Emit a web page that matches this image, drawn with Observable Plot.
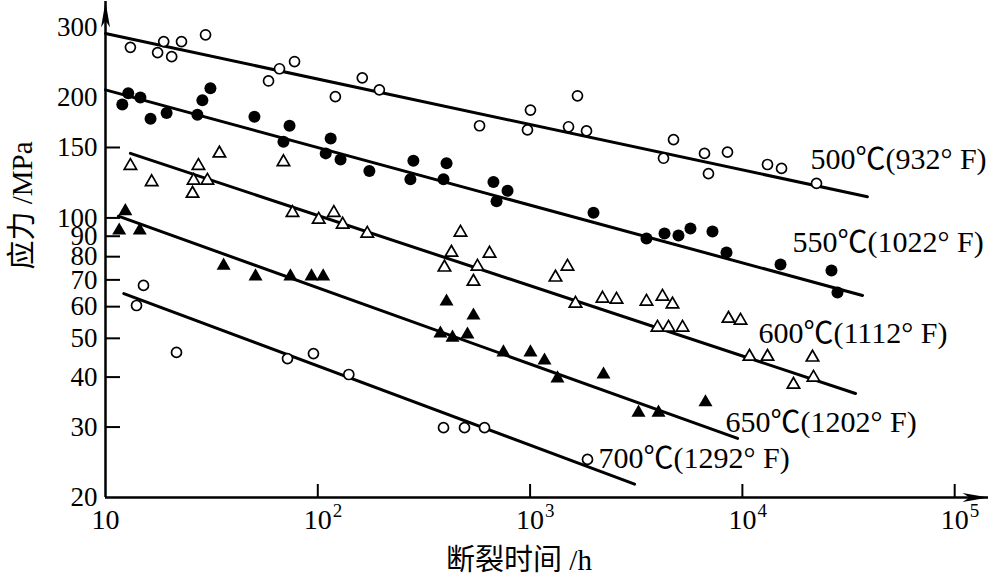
<!DOCTYPE html>
<html>
<head>
<meta charset="utf-8">
<script src="https://cdn.jsdelivr.net/npm/d3@7"></script>
<script src="https://cdn.jsdelivr.net/npm/@observablehq/plot@0.6"></script>
<style>
html,body{margin:0;padding:0;background:#fff;overflow:hidden}
</style>
</head>
<body>
<div id="chart"></div>
<script>
// ---------- data ----------
const xTicks = [10, 100, 1000, 10000, 100000];
const yTickLabels = [20, 30, 40, 50, 60, 70, 80, 90, 100, 150, 200, 300];
const yTickMarks = [30, 40, 50, 60, 70, 80, 90, 100, 150];
const xTitle = "断裂时间 /h";
const yTitle = "应力 /MPa";
const seriesLabels = ["500℃(932° F)", "550℃(1022° F)", "600℃(1112° F)", "650℃(1202° F)", "700℃(1292° F)"];

// rupture time (h), stress (MPa)
const t500 = [[13.1,267],[18.8,276],[17.6,259],[20.5,253],[22.8,276],[29.6,287],[58.6,220],[66.0,236],[77.7,246],
  [121,201],[162,224],[195,209],[578,170],[972,166],[1004,186],[1517,169],[1672,202],[1844,165],
  [4250,141],[4738,157],[6630,145],[6922,129],[8508,146],[13130,136],[15290,133],[22340,122]];
const t550 = [[12.0,192],[12.8,205],[14.6,200],[16.3,177],[19.4,183],[27.1,181],[28.6,197],[31.2,211],[50.3,179],
  [68.9,155],[73.6,170],[115,158],[109,145],[128,140],[175,131],[273,125],[282,139],[391,125],[404,137],
  [672,123],[695,110],[783,117],[1989,103],[3534,88.8],[4297,91.4],[5000,90.4],[5694,94.1],[7230,92.5],
  [8417,81.9],[15120,76.5],[26280,73.9],[28050,65.1]];
const t600 = [[13.1,135],[16.5,123],[25.7,115],[26.0,124],[27.4,135],[30.2,124],[34.4,145],[68.9,138],[76.0,103],
  [101,99.1],[119,103],[131,96.3],[171,91.4],[395,75.2],[426,81.9],[470,91.9],[541,69.3],[565,75.6],[644,81.5],
  [1317,71.0],[1500,75.6],[1636,61.1],[2193,62.9],[2553,62.5],[3534,61.8],[4203,63.6],[4686,60.8],
  [3982,53.2],[4487,53.2],[5224,53.2],[8601,56.0],[9797,55.4],[10800,45.0],[13130,45.0],[17400,38.3],
  [21390,44.8],[21620,39.9]];
const t650 = [[12.4,104],[11.6,93.0],[14.5,93.0],[36.0,76.0],[50.9,71.4],[74.3,71.4],[93.4,71.4],[106,71.4],
  [404,61.8],[541,57.0],[378,51.4],[431,50.2],[507,51.1],[749,46.1],[1004,46.1],[1169,44.0],[1346,39.7],
  [2217,40.6],[3240,32.6],[4025,32.6],[6701,34.6]];
const t700 = [[15.1,67.8],[14.0,60.4],[21.6,46.1],[72.0,44.5],[95.4,45.8],[140,40.6],[391,29.9],[491,29.9],
  [610,29.9],[1864,24.9]];

// fitted straight lines (end points)
const fit500 = [[10,289],[38800,113]];
const fit550 = [[10,209],[36800,64.0]];
const fit600 = [[13.1,145],[34100,36.4]];
const fit650 = [[11.5,101],[9490,28.1]];
const fit700 = [[12.2,64.7],[3105,21.6]];

// ---------- layout ----------
const X_MIN = 10, X_MAX = 144300, Y_MIN = 20, Y_MAX = 347.6;
const FONT = "'Liberation Serif','Times New Roman','Noto Sans CJK SC',serif";
const labelOffsets = [[-57,-37],[-70,-53],[-97,-60],[-12,-16],[-36,-26]];
const fits = [fit500, fit550, fit600, fit650, fit700];
const yTickEnd = X_MIN * 10 ** (15 / 212.3);
const xTickEnd = Y_MIN * 10 ** (13 / 400);

const arrowRight = {draw(c){ c.moveTo(0,0); c.lineTo(-26,-4.5); c.lineTo(-19,0); c.lineTo(-26,4.5); c.closePath(); }};
const arrowUp = {draw(c){ c.moveTo(0,0); c.lineTo(-4.5,26); c.lineTo(0,19); c.lineTo(4.5,26); c.closePath(); }};

const X = d => d[0], Y = d => d[1];
const openDot = (data, symbol, r) => Plot.dot(data, {x: X, y: Y, symbol, r, fill: "white", stroke: "black", strokeWidth: 1.7});
const fullDot = (data, symbol, r) => Plot.dot(data, {x: X, y: Y, symbol, r, fill: "black", stroke: null});

const marks = [
  // axes lines
  Plot.ruleY([Y_MIN], {y: d => d, x1: X_MIN, x2: X_MAX, strokeWidth: 2.5}),
  Plot.ruleX([X_MIN], {x: d => d, y1: Y_MIN, y2: Y_MAX, strokeWidth: 2.5}),
  Plot.dot([[X_MAX, Y_MIN]], {x: X, y: Y, symbol: arrowRight, fill: "black", stroke: null, r: 5}),
  Plot.dot([[X_MIN, Y_MAX]], {x: X, y: Y, symbol: arrowUp, fill: "black", stroke: null, r: 5}),
  // inward ticks
  Plot.ruleY(yTickMarks, {y: d => d, x1: X_MIN, x2: yTickEnd, strokeWidth: 2}),
  Plot.ruleX(xTicks.slice(1), {x: d => d, y1: Y_MIN, y2: xTickEnd, strokeWidth: 2}),
  // y tick labels
  Plot.axisY({ticks: yTickLabels, tickSize: 0, tickPadding: 8, tickFormat: d => String(d), label: null,
    fontSize: 27, fontFamily: FONT}),
  // x tick labels (10 with superscript exponent)
  Plot.text(xTicks, {x: d => d, y: Y_MIN, text: () => "10", dy: 23, fontSize: 28, fontFamily: FONT, textAnchor: "middle"}),
  Plot.text(xTicks.slice(1), {x: d => d, y: Y_MIN, text: d => String(Math.round(Math.log10(d))), dx: 15, dy: 13,
    fontSize: 19, fontFamily: FONT, textAnchor: "start"}),
  // titles
  Plot.text([xTitle], {frameAnchor: "bottom", text: d => d, dx: -28, dy: 72, fontSize: 29, fontFamily: FONT}),
  Plot.text([yTitle], {frameAnchor: "left", text: d => d, dx: -83, dy: 20, rotate: -90, fontSize: 29, fontFamily: FONT}),
  // fitted lines
  ...fits.map(f => Plot.line(f, {x: X, y: Y, strokeWidth: 3, stroke: "black"})),
  // data points
  openDot(t500, "circle", 5),
  fullDot(t550, "circle", 6),
  openDot(t600, "triangle", 4.6),
  fullDot(t650, "triangle", 5.2),
  openDot(t700, "circle", 5),
  // series labels
  ...seriesLabels.map((s, i) => Plot.text([s], {
    x: () => fits[i][1][0], y: () => fits[i][1][1], text: d => d,
    dx: labelOffsets[i][0], dy: labelOffsets[i][1], textAnchor: "start", fontSize: 30, fontFamily: FONT
  }))
];

const chart = Plot.plot({
  width: 992, height: 577,
  marginLeft: 105, marginRight: 4, marginTop: 1, marginBottom: 80,
  x: {type: "log", domain: [X_MIN, X_MAX], axis: null},
  y: {type: "log", domain: [Y_MIN, Y_MAX]},
  style: {fontFamily: FONT, background: "white", overflow: "visible", color: "black"},
  marks
});
document.getElementById("chart").appendChild(chart);
</script>
</body>
</html>
